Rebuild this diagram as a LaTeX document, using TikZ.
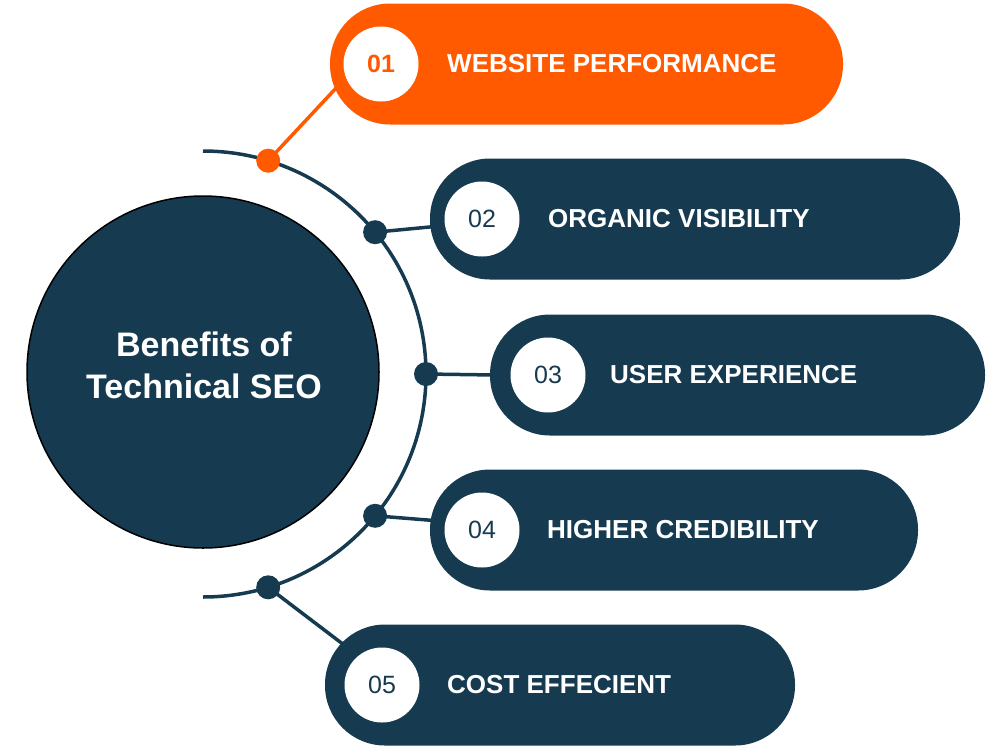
\documentclass[tikz,border=0pt]{standalone}
\usepackage{fontspec}
\setmainfont{Liberation Sans}
\definecolor{navy}{HTML}{163B51}
\definecolor{seoorange}{HTML}{FF5A00}
\begin{document}
\begin{tikzpicture}[x=1pt,y=-1pt,
  pill/.style={rectangle, rounded corners=60pt, minimum height=121pt, inner sep=0pt, draw=none},
  numcirc/.style={circle, fill=white, minimum size=75pt, inner sep=0pt, font=\fontsize{25}{28}\selectfont},
  dot/.style={circle, minimum size=24pt, inner sep=0pt},
  lbl/.style={anchor=west, text=white, font=\bfseries\fontsize{26}{30}\selectfont, inner sep=0pt},
  conn/.style={line width=3.5pt, line cap=round},
  ring/.style={draw=navy, line width=3.5pt}]
\useasboundingbox (0,0) rectangle (1000,750);
% ring arc
\draw[ring] (203,151) arc[start angle=-90, end angle=90, radius=223];
% dots
\node[dot, fill=seoorange] (d1) at (268.2,160.7) {};
\node[dot, fill=navy] (d2) at (375.1,232.2) {};
\node[dot, fill=navy] (d3) at (426,374) {};
\node[dot, fill=navy] (d4) at (375.1,515.8) {};
\node[dot, fill=navy] (d5) at (268.2,587.3) {};
% connector end points
\coordinate (e1) at (338,86);
\coordinate (e2) at (440,226);
\coordinate (e3) at (495,375);
\coordinate (e4) at (440,521);
\coordinate (e5) at (348,648);
\draw[conn, seoorange] (d1.center) -- (e1);
\draw[conn, navy] (d2.center) -- (e2);
\draw[conn, navy] (d3.center) -- (e3);
\draw[conn, navy] (d4.center) -- (e4);
\draw[conn, navy] (d5.center) -- (e5);
% pills
\node[pill, fill=seoorange, minimum width=513pt] (p1) at (586.5,64) {};
\node[pill, fill=navy, minimum width=530pt] (p2) at (695,219) {};
\node[pill, fill=navy, minimum width=495pt] (p3) at (737.5,375) {};
\node[pill, fill=navy, minimum width=488pt] (p4) at (674,530) {};
\node[pill, fill=navy, minimum width=470pt] (p5) at (560,685) {};
% number circles
\node[numcirc, text=seoorange, font=\bfseries\fontsize{25}{28}\selectfont] (c1) at (381,64) {01};
\node[numcirc, text=navy] (c2) at (482,219) {02};
\node[numcirc, text=navy] (c3) at (548,375) {03};
\node[numcirc, text=navy] (c4) at (482,530) {04};
\node[numcirc, text=navy] (c5) at (382,685) {05};
% labels
\node[lbl] (l1) at (447,64) {WEBSITE PERFORMANCE};
\node[lbl] (l2) at (548,219) {ORGANIC VISIBILITY};
\node[lbl] (l3) at (610,375) {USER EXPERIENCE};
\node[lbl] (l4) at (547,530) {HIGHER CREDIBILITY};
\node[lbl] (l5) at (447,685) {COST EFFECIENT};
% centre
\node[circle, fill=navy, draw=black, line width=1.5pt, minimum size=352pt, inner sep=0pt] (hub) at (203,372) {};
\node[text=white, align=center, inner sep=0pt, font=\bfseries\fontsize{34}{42}\selectfont] (hubtext) at (204,365)
      {Benefits of\\Technical SEO};
\end{tikzpicture}
\end{document}
